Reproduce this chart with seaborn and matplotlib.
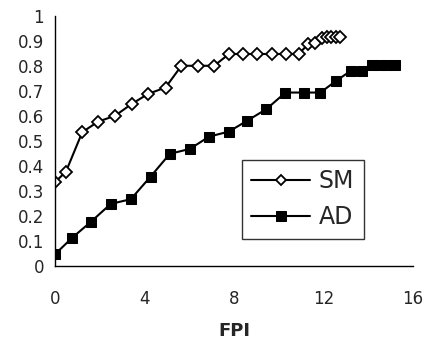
import numpy as np
import pandas as pd
import matplotlib
matplotlib.use("Agg")
import matplotlib.pyplot as plt
from matplotlib.ticker import MultipleLocator
import seaborn as sns

# SM curve
sm_fpi = [0, 0.49, 1.22, 1.93, 2.68, 3.42, 4.17, 4.94, 5.65, 6.37, 7.11,
          7.78, 8.41, 9.05, 9.70, 10.31, 10.89, 11.3, 11.6, 11.95, 12.15,
          12.35, 12.55, 12.75]
sm_rate = [0.335, 0.377, 0.535, 0.577, 0.60, 0.647, 0.688, 0.713, 0.80, 0.80,
           0.80, 0.847, 0.847, 0.847, 0.847, 0.847, 0.847, 0.885, 0.89,
           0.91, 0.915, 0.915, 0.915, 0.915]

# AD curve
ad_fpi = [0, 0.77, 1.61, 2.49, 3.39, 4.27, 5.13, 6.03, 6.89, 7.77, 8.6,
          9.45, 10.3, 11.12, 11.86, 12.57, 13.24, 13.73, 14.15, 14.5, 14.85,
          15.2]
ad_rate = [0.047, 0.113, 0.177, 0.248, 0.267, 0.357, 0.448, 0.468, 0.517,
           0.537, 0.581, 0.627, 0.693, 0.693, 0.693, 0.74, 0.781, 0.781,
           0.804, 0.804, 0.804, 0.804]

sns.set_style("white")
plt.rcParams['font.family'] = ['DejaVu Sans']

sm = pd.DataFrame({'FPI': sm_fpi, 'rate': sm_rate})
ad = pd.DataFrame({'FPI': ad_fpi, 'rate': ad_rate})

fig = plt.figure(figsize=(4.27, 3.41), dpi=100)
ax = fig.add_axes([55 / 427, (341 - 266) / 341, (413 - 55) / 427, (266 - 15.7) / 341])

sns.lineplot(data=sm, x='FPI', y='rate', ax=ax, color='black', lw=1.5,
             marker='D', markersize=6, markerfacecolor='white',
             markeredgecolor='black', markeredgewidth=1.3, label='SM')
sns.lineplot(data=ad, x='FPI', y='rate', ax=ax, color='black', lw=1.5,
             marker='s', markersize=7.5, markerfacecolor='black',
             markeredgecolor='black', label='AD')

ax.set_xlim(0, 16)
ax.set_ylim(0, 1)
ax.xaxis.set_major_locator(MultipleLocator(4))
ax.xaxis.set_minor_locator(MultipleLocator(0.8))
ax.yaxis.set_major_locator(MultipleLocator(0.1))
ax.yaxis.set_minor_locator(MultipleLocator(0.05))
ax.yaxis.set_major_formatter(plt.FuncFormatter(lambda v, p: f'{v:g}'))
ax.tick_params(axis='both', which='both', direction='out', color='black',
               width=1, labelsize=12)
ax.tick_params(axis='both', which='major', length=5)
ax.tick_params(axis='both', which='minor', length=4)
ax.tick_params(axis='x', pad=12)
ax.tick_params(axis='y', pad=3)
ax.spines['top'].set_visible(False)
ax.spines['right'].set_visible(False)
for s in ['left', 'bottom']:
    ax.spines[s].set_color('black')
    ax.spines[s].set_linewidth(1)
ax.set_ylabel('')
ax.set_xlabel('FPI', fontsize=13, fontweight='bold', labelpad=10)

leg = ax.legend(loc='upper left', bbox_to_anchor=((242 - 55) / 358, (266 - 160) / 250.3),
                fontsize=17, frameon=True, fancybox=False, handlelength=2.5,
                handletextpad=0.35, borderpad=0.4, labelspacing=0.5,
                borderaxespad=0, markerscale=0.9)
leg.get_frame().set_edgecolor('black')
leg.get_frame().set_linewidth(1)

fig.savefig('out.png', dpi=100)
